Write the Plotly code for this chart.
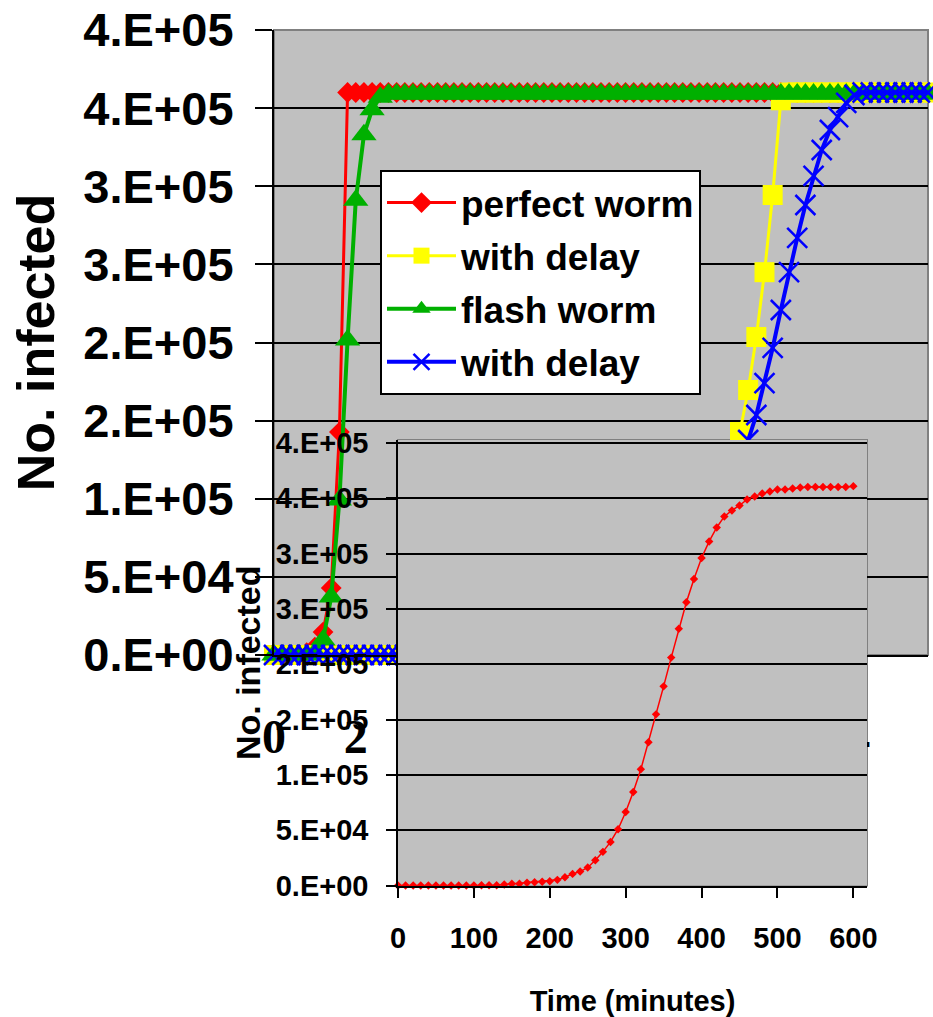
import plotly.graph_objects as go

# ---------------- data: main chart ----------------
time_main = [0.0, 0.2, 0.4, 0.6, 0.8, 1.0, 1.2, 1.4, 1.6, 1.8,
             2.0, 2.2, 2.4, 2.6, 2.8, 3.0, 3.2, 3.4, 3.6, 3.8,
             4.0, 4.2, 4.4, 4.6, 4.8, 5.0, 5.2, 5.4, 5.6, 5.8,
             6.0, 6.2, 6.4, 6.6, 6.8, 7.0, 7.2, 7.4, 7.6, 7.8,
             8.0, 8.2, 8.4, 8.6, 8.8, 9.0, 9.2, 9.4, 9.6, 9.8,
             10.0, 10.2, 10.4, 10.6, 10.8, 11.0, 11.2, 11.4, 11.6, 11.8,
             12.0, 12.2, 12.4, 12.6, 12.8, 13.0, 13.2, 13.4, 13.6, 13.8,
             14.0, 14.2, 14.4, 14.6, 14.8, 15.0, 15.2, 15.4, 15.6, 15.8,
             16.0]

perfect_worm = [0, 0, 0, 0, 1500, 5000, 14700, 42900, 142700, 360000,
                360000, 360000, 360000, 360000, 360000, 360000, 360000, 360000, 360000, 360000,
                360000, 360000, 360000, 360000, 360000, 360000, 360000, 360000, 360000, 360000,
                360000, 360000, 360000, 360000, 360000, 360000, 360000, 360000, 360000, 360000,
                360000, 360000, 360000, 360000, 360000, 360000, 360000, 360000, 360000, 360000,
                360000, 360000, 360000, 360000, 360000, 360000, 360000, 360000, 360000, 360000,
                360000, 360000, 360000, 360000, 360000, 360000, 360000, 360000, 360000, 360000,
                360000, 360000, 360000, 360000, 360000, 360000, 360000, 360000, 360000, 360000,
                360000]

perfect_delay = [0, 0, 0, 0, 0, 0, 0, 0, 0, 0,
                 0, 0, 0, 0, 0, 0, 0, 0, 0, 0,
                 0, 0, 0, 0, 0, 0, 0, 0, 0, 0,
                 0, 0, 0, 0, 0, 0, 0, 0, 0, 0,
                 0, 0, 0, 0, 0, 2000, 3500, 6000, 10000, 15000,
                 22000, 31000, 43000, 57000, 74000, 94000, 117000, 142700, 169600, 203500,
                 245000, 294400, 355000, 360000, 360000, 360000, 360000, 360000, 360000, 360000,
                 360000, 360000, 360000, 360000, 360000, 360000, 360000, 360000, 360000, 360000,
                 360000]

flash_worm = [0, 0, 0, 0, 0, 1500, 9600, 37100, 99200, 201600,
              291000, 333000, 349000, 357000, 359000, 359000, 359000, 359000, 359000, 359000,
              359000, 359000, 359000, 359000, 359000, 359000, 359000, 359000, 359000, 359000,
              359000, 359000, 359000, 359000, 359000, 359000, 359000, 359000, 359000, 359000,
              359000, 359000, 359000, 359000, 359000, 359000, 359000, 359000, 359000, 359000,
              359000, 359000, 359000, 359000, 359000, 359000, 359000, 359000, 359000, 359000,
              359000, 359000, 359000, 359000, 359000, 359000, 359000, 359000, 359000, 359000,
              359000, 359000, 359000, 359000, 359000, 359000, 359000, 359000, 359000, 359000,
              359000]

flash_delay = [0, 0, 0, 0, 0, 0, 0, 0, 0, 0,
               0, 0, 0, 0, 0, 0, 0, 0, 0, 0,
               0, 0, 0, 0, 0, 0, 0, 0, 0, 0,
               0, 0, 0, 0, 0, 0, 0, 0, 0, 0,
               2000, 3000, 4500, 6500, 9000, 12000, 16000, 21000, 27000, 34000,
               42000, 51000, 61000, 72000, 84000, 97000, 110000, 123000, 137600, 153600,
               174000, 196500, 220800, 245000, 266900, 288000, 306600, 323200, 336000, 344300,
               353300, 358400, 360000, 360000, 360000, 360000, 360000, 360000, 360000, 360000,
               360000]

main_xtick_vals = [0, 2, 4, 6, 8, 10, 12, 14, 16]
main_xtick_text = ["0", "2", "4", "6", "8", "10", "12", "14", ""]

ytick_vals = [0, 50000, 100000, 150000, 200000, 250000, 300000, 350000, 400000]
ytick_text = ["0.E+00", "5.E+04", "1.E+05", "2.E+05", "2.E+05",
              "3.E+05", "3.E+05", "4.E+05", "4.E+05"]

# ---------------- data: inset (Code Red) ----------------
time_minutes = [0, 10, 20, 30, 40, 50, 60, 70, 80, 90,
                100, 110, 120, 130, 140, 150, 160, 170, 180, 190,
                200, 210, 220, 230, 240, 250, 260, 270, 280, 290,
                300, 310, 320, 330, 340, 350, 360, 370, 380, 390,
                400, 410, 420, 430, 440, 450, 460, 470, 480, 490,
                500, 510, 520, 530, 540, 550, 560, 570, 580, 590,
                600]
code_red = [0, 0, 0, 0, 0, 0, 0, 0, 0, 0,
            0, 300, 300, 300, 900, 1500, 1500, 2400, 3000, 3300,
            3900, 5100, 7500, 10500, 12600, 16300, 22900, 30400, 39400, 50900,
            66500, 84600, 105000, 129400, 154700, 180000, 206000, 232000, 256000, 277000,
            296000, 311000, 323600, 333600, 339000, 343500, 349000, 351700, 354400, 356200,
            358000, 358000, 358900, 359800, 360200, 360200, 360200, 360200, 360200, 360200,
            361000]
inset_xtick_vals = [0, 100, 200, 300, 400, 500, 600]

# ---------------- figure ----------------
W, H = 933, 1017
SANS = "Liberation Sans, Arial, sans-serif"
SERIF = "Liberation Serif"

fig = go.Figure()

fig.add_trace(go.Scatter(
    x=time_main, y=perfect_worm, name="perfect worm", legendgroup="a",
    mode="lines+markers", cliponaxis=False,
    line=dict(color="#FF0000", width=3),
    marker=dict(symbol="diamond", size=16, color="#FF0000"),
    xaxis="x", yaxis="y"))
fig.add_trace(go.Scatter(
    x=time_main, y=perfect_delay, name="with delay", legendgroup="b",
    mode="lines+markers", cliponaxis=False,
    line=dict(color="#FFFF00", width=3),
    marker=dict(symbol="square", size=20, color="#FFFF00"),
    xaxis="x", yaxis="y"))
fig.add_trace(go.Scatter(
    x=time_main, y=flash_worm, name="flash worm", legendgroup="c",
    mode="lines+markers", cliponaxis=False,
    line=dict(color="#00B000", width=4),
    marker=dict(symbol="triangle-up", size=22, color="#00B000"),
    xaxis="x", yaxis="y"))
fig.add_trace(go.Scatter(
    x=time_main, y=flash_delay, name="with delay", legendgroup="d",
    mode="lines+markers", cliponaxis=False,
    line=dict(color="#0000FF", width=4),
    marker=dict(symbol="x-thin-open", size=20, color="#0000FF",
                line=dict(color="#0000FF", width=2.5)),
    xaxis="x", yaxis="y"))

fig.add_trace(go.Scatter(
    x=time_minutes, y=code_red, name="Code Red", showlegend=False,
    mode="lines+markers", cliponaxis=False,
    line=dict(color="#FF0000", width=1.5),
    marker=dict(symbol="diamond", size=6.5, color="#FF0000"),
    xaxis="x2", yaxis="y2"))

main_x0, main_x1, main_y0, main_y1 = 274, 928, 30, 655
ins_x0, ins_x1, ins_y0, ins_y1 = 398, 867, 440, 885.5

fig.update_layout(
    width=W, height=H, autosize=False,
    margin=dict(l=0, r=0, t=0, b=0, pad=0, autoexpand=False),
    paper_bgcolor="white", plot_bgcolor="#C0C0C0",
    font=dict(family=SANS, color="black"),
    showlegend=True,
    legend=dict(
        x=380 / W, y=1 - 170 / H, xanchor="left", yanchor="top",
        bgcolor="white", bordercolor="black", borderwidth=2,
        font=dict(family=SANS, size=37, weight="bold", color="black"),
        tracegroupgap=2, itemwidth=69),
    xaxis=dict(
        domain=[main_x0 / W, main_x1 / W], range=[0, 16], anchor="y",
        automargin=False,
        showgrid=False, zeroline=False,
        showline=True, linecolor="black", linewidth=2,
        ticks="", tickvals=main_xtick_vals, ticktext=main_xtick_text,
        tickfont=dict(family=SERIF, size=48, weight=700, color="black"),
        ticklabelstandoff=38),
    yaxis=dict(
        domain=[1 - main_y1 / H, 1 - main_y0 / H], range=[0, 400000], anchor="x",
        automargin=False,
        showgrid=True, gridcolor="black", gridwidth=2, zeroline=False,
        showline=True, linecolor="black", linewidth=2,
        ticks="outside", ticklen=17, tickwidth=2, tickcolor="black",
        tickvals=ytick_vals, ticktext=ytick_text,
        tickfont=dict(family=SANS, size=47, weight="bold", color="black"),
        ticklabelstandoff=12,
        title=dict(text="No. infected", standoff=12,
                   font=dict(family=SANS, size=52, weight="bold", color="black"))),
    xaxis2=dict(
        domain=[ins_x0 / W, ins_x1 / W], range=[0, 618], anchor="y2",
        automargin=False,
        showgrid=False, zeroline=False,
        showline=True, linecolor="black", linewidth=1.5,
        ticks="outside", ticklen=11, tickwidth=1.5, tickcolor="black",
        tickvals=inset_xtick_vals,
        tickfont=dict(family=SANS, size=29, weight="bold", color="black"),
        ticklabelstandoff=15,
        title=dict(text="Time (minutes)", standoff=47,
                   font=dict(family=SANS, size=29, weight="bold", color="black"))),
    yaxis2=dict(
        domain=[1 - ins_y1 / H, 1 - ins_y0 / H], range=[0, 402700], anchor="x2",
        automargin=False,
        showgrid=True, gridcolor="black", gridwidth=1.5, zeroline=False,
        showline=True, linecolor="black", linewidth=1.5,
        ticks="outside", ticklen=10, tickwidth=1.5, tickcolor="black",
        tickvals=ytick_vals, ticktext=ytick_text,
        tickfont=dict(family=SANS, size=29, weight="bold", color="black"),
        ticklabelstandoff=12,
        title=dict(text="No. infected", standoff=5,
                   font=dict(family=SANS, size=34, weight="bold", color="black"))),
    shapes=[
        dict(type="rect", xref="x domain", yref="y domain", x0=0, x1=1, y0=0, y1=1,
             line=dict(color="#808080", width=2), fillcolor="rgba(0,0,0,0)", layer="below"),
        dict(type="rect", xref="x2 domain", yref="y2 domain", x0=0, x1=1, y0=0, y1=1,
             line=dict(color="#808080", width=2), fillcolor="rgba(0,0,0,0)", layer="below"),
    ],
)

fig.write_html("out.html")
